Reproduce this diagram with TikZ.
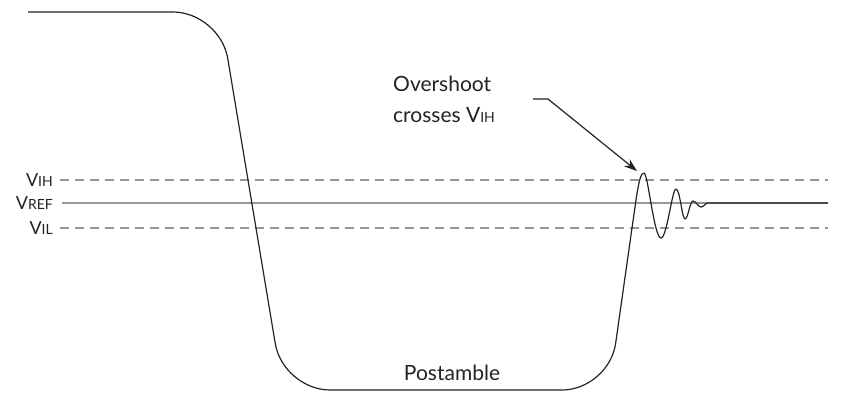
\documentclass[tikz,border=0pt]{standalone}
\usepackage{fontspec}
\setmainfont{Lato}
\usetikzlibrary{arrows.meta}
\definecolor{ink}{RGB}{35,35,35}
\definecolor{refgray}{RGB}{150,150,150}
\newcommand{\lblsmall}[1]{{\fontsize{14}{14}\selectfont #1}}
\tikzset{
  wave/.style={draw=ink, line width=1.2pt, line join=round},
  refline/.style={draw=refgray, line width=1.4pt},
  dashref/.style={refline, dash pattern=on 9pt off 6pt},
  vlabel/.style={anchor=base east, inner sep=0pt, text=ink, font=\fontsize{18}{18}\selectfont},
  bigtext/.style={inner sep=0pt, text=ink, font=\fontsize{21}{21}\selectfont},
  leader/.style={draw=ink, line width=1.2pt, -{Stealth[length=13pt,width=9pt]}}
}
\begin{document}
\begin{tikzpicture}[x=1pt,y=-1pt]
\useasboundingbox (0,0) rectangle (843,395);
% reference levels
\coordinate (vihL) at (60,180);  \coordinate (vihR) at (828,180);
\coordinate (vrefL) at (62,203); \coordinate (vrefR) at (828,203);
\coordinate (vilL) at (60,228);  \coordinate (vilR) at (828,228);
\draw[dashref] (vihL) -- (vihR);
\draw[refline] (vrefL) -- (vrefR);
\draw[dashref] (vilL) -- (vilR);
\node[vlabel] (vih) at (53,187) {V\lblsmall{IH}};
\node[vlabel] (vref) at (53,210) {V\lblsmall{REF}};
\node[vlabel] (vil) at (53,235) {V\lblsmall{IL}};
% waveform
\coordinate (w0) at (28,12);
\coordinate (c1) at (220,12);
\coordinate (c2) at (283,390);
\coordinate (c3) at (609,390);
\coordinate (rise) at (636,200);
\coordinate (peak) at (644,173);
\coordinate (settle) at (708,203);
\draw[wave, rounded corners=47pt] (w0) -- (c1) -- (c2) -- (c3) -- (rise);
\draw[wave] (rise) .. controls (639,180) and (641,173) .. (peak)
  .. controls (648,173) and (654,238) .. (661,238)
  .. controls (667,238) and (672,189) .. (676,189)
  .. controls (680,189) and (682,219) .. (685,219)
  .. controls (688,219) and (690,201) .. (693,201)
  .. controls (696,201) and (698,207) .. (701,207)
  .. controls (704,207) and (705,203) .. (settle) -- (vrefR);
% annotation
\node[bigtext, anchor=base west] (ov1) at (393,92) {Overshoot};
\node[bigtext, anchor=base west] (ov2) at (393,123) {crosses V\lblsmall{IH}};
\coordinate (ld0) at (533,99);
\coordinate (ld1) at (548,99);
\coordinate (tip) at (637,171);
\draw[leader] (ld0) -- (ld1) -- (tip);
\node[bigtext, anchor=base] (post) at (452,380) {Postamble};
\end{tikzpicture}
\end{document}
